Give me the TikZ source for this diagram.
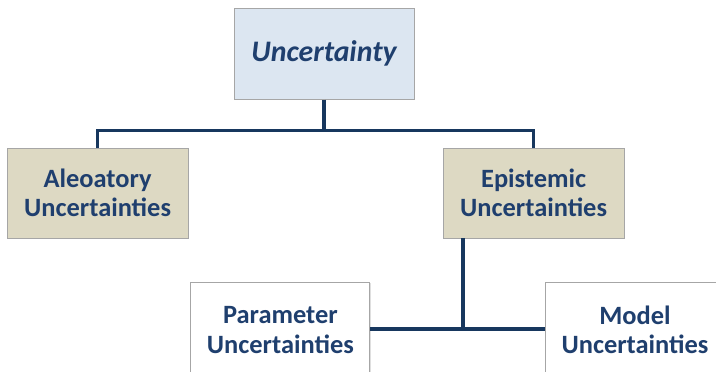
\documentclass[tikz,border=0pt]{standalone}
\usepackage{fontspec}
\setmainfont{Carlito}
\usetikzlibrary{calc,positioning,shadows}
\definecolor{navyblue}{HTML}{1F3F6E}
\definecolor{linkblue}{HTML}{17375E}
\definecolor{paleblue}{HTML}{DCE6F1}
\definecolor{khaki}{HTML}{DDD9C3}
\definecolor{boxgrey}{HTML}{A6A6A6}
\tikzset{
  box/.style={draw=boxgrey, line width=0.6pt, align=center, inner sep=0pt,
    text=navyblue, font=\fontsize{18.8}{21}\selectfont\bfseries,
    drop shadow={opacity=0.25, shadow xshift=0.6pt, shadow yshift=-0.6pt}},
  link/.style={draw=linkblue, line width=2.2pt}
}

\begin{document}
\begin{tikzpicture}
\useasboundingbox (0,0) rectangle (17.9,9.3);
\clip (0,0) rectangle (17.9,9.3);
\fill[white] (0,0) rectangle (17.9,9.3);
%top level
\node (unc) [box, fill=paleblue, minimum width=4.5cm, minimum height=2.275cm,
  font=\fontsize{21.2}{24}\selectfont\bfseries\itshape] at (8.1,7.96) {Uncertainty};
%second level
\node (ale) [box, fill=khaki, minimum width=4.525cm, minimum height=2.25cm] at (2.44,4.475) {Aleoatory\\Uncertainties};
\node (epi) [box, fill=khaki, minimum width=4.525cm, minimum height=2.25cm] at (13.34,4.475) {Epistemic\\Uncertainties};
%third level (cut by the page edge)
\node (par) [box, fill=white, minimum width=4.475cm, minimum height=2.4cm] at (7.01,1.05) {Parameter\\Uncertainties};
\node (mod) [box, fill=white, minimum width=4.5cm, minimum height=2.4cm] at (15.875,1.05) {Model\\Uncertainties};
%connectors
\draw[link] (unc.south) -- ++(0,-0.775) coordinate (j1);
\draw[link] (ale.north) |- (j1) -| (epi.north);
\coordinate (j2) at (11.575,1.075);
\draw[link] (epi.south -| j2) -- (j2);
\draw[link] (par.east |- j2) -- (mod.west |- j2);
\end{tikzpicture}
\end{document}
